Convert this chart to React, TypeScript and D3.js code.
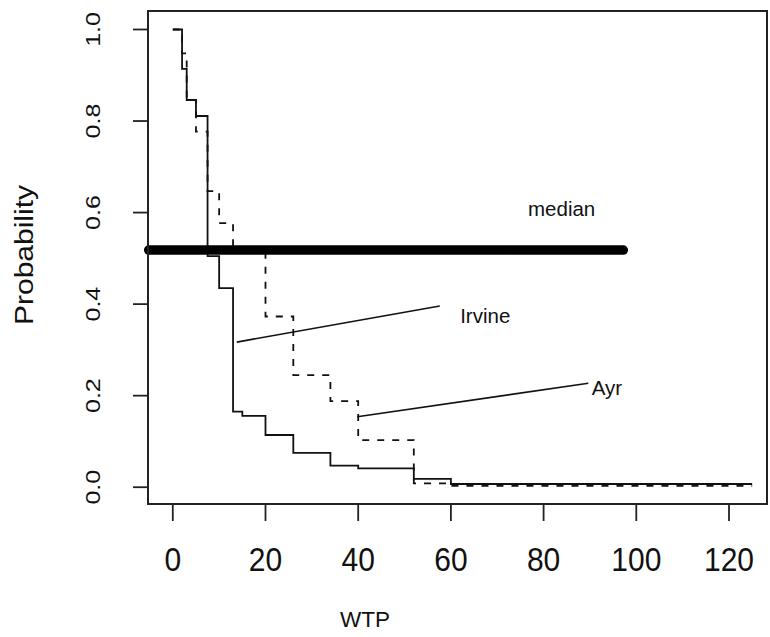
import React from 'react';
import * as d3 from 'd3';

// bid levels (WTP) where the survival curves step down
const bids = [0, 2, 3, 5, 7.5, 10, 13, 15, 20, 26, 34, 40, 52, 60, 125];
const irvine = [1.0, 0.914, 0.846, 0.811, 0.505, 0.435, 0.165, 0.156, 0.114, 0.075, 0.047, 0.041, 0.018, 0.007, 0.007];
const ayr = [1.0, 0.948, 0.846, 0.777, 0.647, 0.577, 0.515, 0.515, 0.373, 0.245, 0.188, 0.103, 0.0085, 0.003, 0.003];

const medianX = [-5.2, 97.2];
const medianP = 0.518;

const irvinePointer: [number, number][] = [[13.8, 0.317], [57.6, 0.396]];
const ayrPointer: [number, number][] = [[39.8, 0.154], [89.65, 0.227]];

const notes = [
  { text: 'median', x: 83.9, p: 0.593, anchor: 'middle' },
  { text: 'Irvine', x: 62, p: 0.359, anchor: 'start' },
  { text: 'Ayr', x: 90.4, p: 0.201, anchor: 'start' },
];

const xTicks = [0, 20, 40, 60, 80, 100, 120];
const yTicks = [0, 0.2, 0.4, 0.6, 0.8, 1.0];

const W = 770;
const H = 637;
const FONT = '"Liberation Sans", Arial, Helvetica, sans-serif';
const INK = '#111';

const App = () => {
  const x = d3.scaleLinear().domain([-5.35, 128.2]).range([148, 767]);
  const y = d3.scaleLinear().domain([-0.0367, 1.0404]).range([504, 11]);

  const step = d3
    .line<[number, number]>()
    .x(d => x(d[0]))
    .y(d => y(d[1]))
    .curve(d3.curveStepAfter);

  const straight = d3
    .line<[number, number]>()
    .x(d => x(d[0]))
    .y(d => y(d[1]));

  const irvinePts = bids.map((b, i) => [b, irvine[i]] as [number, number]);
  const ayrPts = bids.map((b, i) => [b, ayr[i]] as [number, number]);

  const [x0, x1] = x.range();
  const [yb, yt] = y.range();

  return (
    <svg
      width={W}
      height={H}
      style={{ position: 'fixed', left: 0, top: 0, background: '#fff' }}
      fontFamily={FONT}
    >
      <rect x={0} y={0} width={W} height={H} fill="#fff" />

      {/* survival curves */}
      <path d={step(ayrPts) || ''} fill="none" stroke={INK} strokeWidth={1.8} strokeDasharray="7,8" />
      <path d={step(irvinePts) || ''} fill="none" stroke={INK} strokeWidth={1.8} />

      {/* median line */}
      <line
        x1={x(medianX[0])}
        x2={x(medianX[1])}
        y1={y(medianP)}
        y2={y(medianP)}
        stroke="#000"
        strokeWidth={9.5}
        strokeLinecap="round"
      />

      {/* pointer lines */}
      <path d={straight(irvinePointer) || ''} fill="none" stroke={INK} strokeWidth={1.6} />
      <path d={straight(ayrPointer) || ''} fill="none" stroke={INK} strokeWidth={1.6} />

      {notes.map(n => (
        <text key={n.text} x={x(n.x)} y={y(n.p)} fontSize={20.5} textAnchor={n.anchor} fill={INK}>
          {n.text}
        </text>
      ))}

      {/* plot box */}
      <rect x={x0} y={yt} width={x1 - x0} height={yb - yt} fill="none" stroke="#222" strokeWidth={2} />

      {/* x axis */}
      {xTicks.map(t => (
        <g key={'x' + t}>
          <line x1={x(t)} x2={x(t)} y1={yb + 1} y2={yb + 17} stroke="#222" strokeWidth={1.8} />
          <text
            transform={`translate(${x(t)},571) scale(1,1.08)`}
            fontSize={30}
            textAnchor="middle"
            fill={INK}
          >
            {t}
          </text>
        </g>
      ))}
      <text x={365} y={626.7} fontSize={22.5} textAnchor="middle" fill={INK}>
        WTP
      </text>

      {/* y axis */}
      {yTicks.map(t => (
        <g key={'y' + t}>
          <line x1={x0 - 15} x2={x0} y1={y(t)} y2={y(t)} stroke="#222" strokeWidth={1.8} />
          <text
            transform={`translate(100,${y(t)}) rotate(-90) scale(1,0.8)`}
            fontSize={25}
            textAnchor="middle"
            fill={INK}
          >
            {t.toFixed(1)}
          </text>
        </g>
      ))}
      <text
        transform={`translate(33,255) rotate(-90) scale(1,0.85)`}
        fontSize={30}
        textAnchor="middle"
        fill={INK}
      >
        Probability
      </text>
    </svg>
  );
};

export default App;
